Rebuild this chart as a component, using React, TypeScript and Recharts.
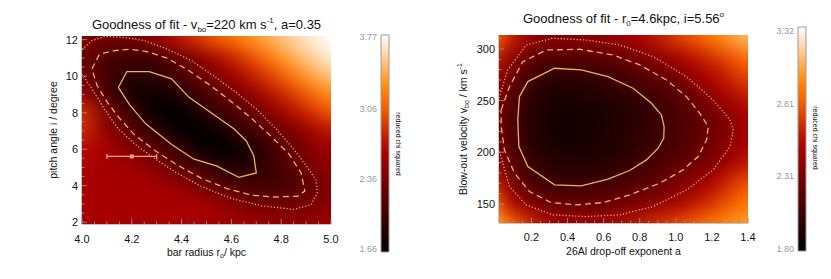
import { ReferenceArea, Scatter, ScatterChart, XAxis, YAxis } from "recharts";

// ---- left panel: chi^2 over bar radius (x) and pitch angle (y)
const leftX = [4.0, 4.1, 4.2, 4.3, 4.4, 4.5, 4.6, 4.7, 4.8, 4.9, 5.0];
const leftY = [12, 11, 10, 9, 8, 7, 6, 5, 4, 3, 2];
const leftChi = [
  [2.45, 2.28, 2.3, 2.52, 2.75, 2.98, 3.15, 3.32, 3.5, 3.66, 3.77],
  [2.25, 2.08, 2.02, 2.03, 2.25, 2.52, 2.78, 3.04, 3.3, 3.52, 3.7],
  [2.35, 2.05, 1.86, 1.9, 2.08, 2.3, 2.55, 2.8, 3.05, 3.32, 3.52],
  [2.55, 2.05, 1.8, 1.72, 1.9, 2.08, 2.28, 2.52, 2.8, 3.05, 3.3],
  [2.9, 2.35, 1.98, 1.68, 1.66, 1.9, 2.07, 2.3, 2.55, 2.8, 3.05],
  [2.85, 2.5, 2.15, 1.92, 1.67, 1.66, 1.88, 2.05, 2.3, 2.5, 2.75],
  [2.7, 2.6, 2.42, 2.15, 1.93, 1.68, 1.67, 1.86, 2.12, 2.38, 2.55],
  [2.65, 2.6, 2.55, 2.45, 2.15, 2.03, 1.82, 1.9, 2.05, 2.33, 2.5],
  [2.62, 2.62, 2.62, 2.6, 2.5, 2.25, 2.08, 2.02, 2.05, 2.15, 2.4],
  [2.62, 2.62, 2.62, 2.62, 2.63, 2.6, 2.45, 2.3, 2.28, 2.32, 2.45],
  [2.6, 2.62, 2.6, 2.6, 2.62, 2.6, 2.58, 2.55, 2.5, 2.5, 2.55],
];
const leftSolid = [
  [4.146, 9.38], [4.18, 10.25], [4.27, 10.25], [4.36, 9.85], [4.43, 8.84], [4.52, 7.98],
  [4.61, 7.12], [4.66, 6.45], [4.69, 5.63], [4.7, 4.7], [4.63, 4.46], [4.54, 5.08],
  [4.45, 5.45], [4.36, 6.26], [4.255, 7.4], [4.19, 8.45], [4.146, 9.38],
];
const leftDashed = [
  [4.04, 10.4], [4.07, 11.2], [4.13, 11.4], [4.19, 11.47], [4.26, 11.35], [4.34, 11.0],
  [4.43, 10.3], [4.52, 9.45], [4.6, 8.6], [4.68, 7.7], [4.76, 6.7], [4.83, 5.75],
  [4.88, 4.7], [4.895, 3.7], [4.865, 3.42], [4.77, 3.38], [4.68, 3.48], [4.58, 3.85],
  [4.48, 4.4], [4.38, 5.15], [4.29, 5.95], [4.21, 6.8], [4.15, 7.7], [4.1, 8.6],
  [4.06, 9.5], [4.04, 10.4],
];
const leftDotted = [
  [4.0, 11.45], [4.04, 11.95], [4.09, 12.17], [4.17, 12.12], [4.25, 11.95], [4.34, 11.5],
  [4.44, 10.85], [4.53, 10.0], [4.62, 9.1], [4.7, 8.2], [4.78, 7.1], [4.85, 6.0],
  [4.9, 5.1], [4.94, 4.3], [4.945, 3.6], [4.92, 2.95], [4.85, 2.7], [4.72, 2.9],
  [4.6, 3.3], [4.48, 3.95], [4.38, 4.7], [4.29, 5.5], [4.21, 6.3], [4.14, 7.2],
  [4.09, 8.2], [4.04, 9.3], [4.0, 10.1],
];
const leftBest = [{ x: 4.2, y: 5.6, xErr: 0.1 }];
const leftXMajor = [4.0, 4.2, 4.4, 4.6, 4.8, 5.0];
const leftYMajor = [2, 4, 6, 8, 10, 12];
const leftBarTicks = [1.66, 2.36, 3.06, 3.77];

// ---- right panel: chi^2 over drop-off exponent (x) and blow-out velocity (y)
const rightX = [0.0, 0.1, 0.2, 0.3, 0.4, 0.5, 0.6, 0.7, 0.8, 0.9, 1.0, 1.1, 1.2, 1.3, 1.4];
const rightY = [310, 290, 270, 250, 230, 210, 190, 170, 150, 130];
const rightChi = [
  [2.85, 2.6, 2.42, 2.36, 2.36, 2.37, 2.4, 2.45, 2.52, 2.6, 2.7, 2.8, 2.9, 3.0, 3.1],
  [2.6, 2.36, 2.17, 2.13, 2.13, 2.13, 2.16, 2.19, 2.28, 2.35, 2.45, 2.55, 2.65, 2.75, 2.85],
  [2.45, 2.2, 2.05, 1.98, 1.97, 1.98, 2.02, 2.07, 2.12, 2.17, 2.24, 2.38, 2.5, 2.62, 2.72],
  [2.35, 2.12, 1.97, 1.92, 1.9, 1.91, 1.93, 1.96, 2.0, 2.05, 2.12, 2.22, 2.35, 2.47, 2.58],
  [2.28, 2.1, 1.96, 1.9, 1.88, 1.89, 1.91, 1.94, 1.98, 2.03, 2.09, 2.15, 2.24, 2.34, 2.48],
  [2.32, 2.1, 1.97, 1.91, 1.89, 1.9, 1.92, 1.96, 2.0, 2.05, 2.11, 2.18, 2.27, 2.37, 2.5],
  [2.45, 2.14, 2.03, 1.96, 1.93, 1.93, 1.95, 1.98, 2.04, 2.1, 2.16, 2.22, 2.32, 2.45, 2.58],
  [2.62, 2.28, 2.1, 2.04, 2.03, 2.03, 2.07, 2.1, 2.15, 2.2, 2.3, 2.4, 2.52, 2.65, 2.78],
  [2.85, 2.5, 2.33, 2.22, 2.2, 2.2, 2.21, 2.26, 2.32, 2.38, 2.47, 2.57, 2.68, 2.8, 2.9],
  [3.05, 2.85, 2.65, 2.52, 2.48, 2.48, 2.5, 2.55, 2.6, 2.68, 2.75, 2.83, 2.9, 2.97, 3.02],
];
const rightSolid = [
  [0.133, 253.8], [0.18, 268.4], [0.328, 281.3], [0.476, 279.7], [0.624, 273.2], [0.763, 262.0],
  [0.865, 247.4], [0.92, 236.1], [0.935, 224.8], [0.933, 213.6], [0.902, 203.9], [0.837, 192.6],
  [0.744, 182.3], [0.624, 173.9], [0.476, 167.4], [0.328, 168.4], [0.18, 186.1], [0.13, 205.5],
  [0.124, 231.3], [0.133, 253.8],
];
const rightDashed = [
  [0.032, 241.0], [0.078, 263.5], [0.152, 287.7], [0.282, 299.0], [0.467, 299.7], [0.652, 294.2],
  [0.8, 284.5], [0.948, 270.0], [1.059, 253.8], [1.133, 237.7], [1.18, 224.8], [1.17, 211.9],
  [1.124, 195.8], [1.04, 182.9], [0.911, 170.0], [0.744, 158.7], [0.596, 151.3], [0.448, 149.0],
  [0.309, 151.3], [0.189, 161.9], [0.106, 179.7], [0.05, 202.3], [0.032, 224.8], [0.032, 241.0],
];
const rightDotted = [
  [0.02, 252.3], [0.068, 279.7], [0.171, 303.9], [0.318, 310.3], [0.5, 308.7], [0.689, 303.9],
  [0.874, 292.6], [1.059, 273.2], [1.207, 250.6], [1.3, 231.3], [1.318, 221.6], [1.3, 205.5],
  [1.207, 182.9], [1.059, 163.5], [0.874, 147.4], [0.689, 139.4], [0.5, 137.7], [0.318, 139.4],
  [0.171, 149.0], [0.078, 166.7], [0.02, 202.3],
];
const rightXMajor = [0.2, 0.4, 0.6, 0.8, 1.0, 1.2, 1.4];
const rightYMajor = [150, 200, 250, 300];
const rightBarTicks = [1.8, 2.31, 2.81, 3.32];

const FONT = '"Liberation Sans", Arial, Helvetica, sans-serif';
const FRAME = "#8a8a8a";
const CONTOUR = "#f7ad5e";
const BEST = "#ffa58c";
const PLOT_W = 249;
const PLOT_H = 188;

// IDL "red temperature" table: black -> red -> orange -> white
function redTemp(t: number) {
  const c = Math.max(0, Math.min(1, t));
  const r = Math.min(1, c / 0.69);
  const g = Math.max(0, (c - 0.47) / 0.53);
  const b = Math.max(0, (c - 0.75) / 0.25);
  return `rgb(${Math.round(r * 255)},${Math.round(g * 255)},${Math.round(b * 255)})`;
}

function range(a: number, b: number, s: number) {
  const out: number[] = [];
  for (let v = a; v <= b + 1e-9; v += s) out.push(+v.toFixed(4));
  return out;
}

const toCells = (xs: number[], ys: number[], grid: number[][]) =>
  ys.flatMap((y, i) => xs.map((x, j) => ({ x, y, v: grid[i][j] })));
const toPts = (pts: number[][]) => pts.map(([x, y]) => ({ x, y }));

const noMark = () => <g />;
const capMark = (p: any) => <line x1={p.cx} x2={p.cx} y1={p.cy - 2.5} y2={p.cy + 2.5} stroke={BEST} strokeWidth={1.2} />;
const boxMark = (p: any) => <rect x={p.cx - 2} y={p.cy - 2} width={4} height={4} fill={BEST} />;

function heatShape(lo: number, hi: number, w: number, h: number) {
  return (props: any) => {
    const { cx, cy, payload } = props;
    return (
      <rect
        x={cx - w / 2 - 0.5}
        y={cy - h / 2 - 0.5}
        width={w + 1}
        height={h + 1}
        fill={redTemp((payload.v - lo) / (hi - lo))}
      />
    );
  };
}

type Side = "bottom" | "left" | "top" | "right";

function axisTick(side: Side, majors: number[], fmt: (v: number) => string, gap: number) {
  return (props: any) => {
    const { x, y, payload } = props;
    const v = payload.value as number;
    const major = majors.some((m) => Math.abs(m - v) < 1e-6);
    const len = major ? 5 : 2.5;
    const pos =
      side === "bottom"
        ? { x1: x, y1: y, x2: x, y2: y - len }
        : side === "top"
          ? { x1: x, y1: y, x2: x, y2: y + len }
          : side === "left"
            ? { x1: x, y1: y, x2: x + len, y2: y }
            : { x1: x, y1: y, x2: x - len, y2: y };
    return (
      <g>
        <line {...pos} stroke={FRAME} strokeWidth={1} />
        {major && side === "bottom" && (
          <text x={x} y={y + gap} textAnchor="middle" fontSize={11} fontFamily={FONT} fill="#111">
            {fmt(v)}
          </text>
        )}
        {major && side === "left" && (
          <text x={x - gap} y={y + 4} textAnchor="end" fontSize={11} fontFamily={FONT} fill="#111">
            {fmt(v)}
          </text>
        )}
      </g>
    );
  };
}

function frameAxes(
  xDomain: [number, number],
  yDomain: [number, number],
  xTicks: number[],
  yTicks: number[],
  xMajor: number[],
  yMajor: number[],
  xFmt: (v: number) => string,
  yFmt: (v: number) => string,
  xGap: number,
) {
  const common = { type: "number" as const, allowDataOverflow: true, interval: 0 as const, tickSize: 0, tickMargin: 0, tickLine: false, axisLine: { stroke: FRAME } };
  return [
    <XAxis key="xb" dataKey="x" domain={xDomain} ticks={xTicks} height={40} tick={axisTick("bottom", xMajor, xFmt, xGap)} {...common} />,
    <XAxis key="xt" xAxisId="top" orientation="top" dataKey="x" domain={xDomain} ticks={xTicks} height={0} tick={axisTick("top", xMajor, xFmt, 0)} {...common} />,
    <YAxis key="yl" dataKey="y" domain={yDomain} ticks={yTicks} width={40} tick={axisTick("left", yMajor, yFmt, 4)} {...common} />,
    <YAxis key="yr" yAxisId="right" orientation="right" dataKey="y" domain={yDomain} ticks={yTicks} width={0} tick={axisTick("right", yMajor, yFmt, 0)} {...common} />,
  ];
}

function ColorBar({ left, top, bottom, domain, ticks, gradId }: { left: number; top: number; bottom: number; domain: [number, number]; ticks: number[]; gradId: string }) {
  return (
    <div style={{ position: "absolute", left, top: 0 }}>
      <ScatterChart width={70} height={279} margin={{ top, right: 21, bottom, left: 5 }}>
        <ReferenceArea x1={0} x2={1} y1={domain[0]} y2={domain[1]} fill={`url(#${gradId})`} fillOpacity={1} stroke="#9a9a9a" strokeWidth={1} />
        <Scatter data={ticks.map((v) => ({ x: 0.5, y: v }))} shape={noMark} isAnimationActive={false} />
        <XAxis type="number" dataKey="x" domain={[0, 1]} hide />
        <YAxis
          type="number"
          dataKey="y"
          domain={domain}
          ticks={ticks}
          allowDataOverflow
          interval={0}
          width={36}
          tickSize={0}
          tickMargin={4}
          axisLine={false}
          tickLine={false}
          tick={{ fill: "#9a9a9a", fontSize: 9, fontFamily: FONT }}
          tickFormatter={(v: number) => v.toFixed(2)}
        />
      </ScatterChart>
    </div>
  );
}

const gradStops = range(0, 1, 0.05);

export default function App() {
  const leftXDom: [number, number] = [4.0, 5.0];
  const leftYDom: [number, number] = [1.9, 12.2];
  const rightXDom: [number, number] = [0.02, 1.4];
  const rightYDom: [number, number] = [131.5, 313.5];
  const lw = (PLOT_W * 0.1) / (leftXDom[1] - leftXDom[0]);
  const lh = (PLOT_H * 1) / (leftYDom[1] - leftYDom[0]);
  const rw = (PLOT_W * 0.1) / (rightXDom[1] - rightXDom[0]);
  const rh = (PLOT_H * 20) / (rightYDom[1] - rightYDom[0]);

  const bestEnds = leftBest.flatMap((b) => [
    { x: b.x - b.xErr, y: b.y },
    { x: b.x + b.xErr, y: b.y },
  ]);

  const contourSeries = (solid: number[][], dashed: number[][], dotted: number[][]) => [
    <Scatter key="dot" data={toPts(dotted)} fill={CONTOUR} line={{ stroke: CONTOUR, strokeWidth: 1.3, strokeDasharray: "1.2 2" }} shape={noMark} isAnimationActive={false} />,
    <Scatter key="dash" data={toPts(dashed)} fill={CONTOUR} line={{ stroke: CONTOUR, strokeWidth: 1.3, strokeDasharray: "6 4" }} shape={noMark} isAnimationActive={false} />,
    <Scatter key="solid" data={toPts(solid)} fill={CONTOUR} line={{ stroke: CONTOUR, strokeWidth: 1.3 }} shape={noMark} isAnimationActive={false} />,
  ];

  return (
    <div style={{ position: "absolute", left: 0, top: 0, width: 831, height: 279, background: "#fff", fontFamily: FONT }}>
      <style>{`
        .heat-left { filter: url(#blurLeft); clip-path: url(#clipLeft); }
        .heat-right { filter: url(#blurRight); clip-path: url(#clipRight); }
      `}</style>
      <svg width={0} height={0} style={{ position: "absolute" }}>
        <defs>
          <filter id="blurLeft" colorInterpolationFilters="sRGB">
            <feGaussianBlur stdDeviation="11 8" />
            <feColorMatrix type="matrix" values="1 0 0 0 0  0 1 0 0 0  0 0 1 0 0  0 0 0 0 1" />
          </filter>
          <filter id="blurRight" colorInterpolationFilters="sRGB">
            <feGaussianBlur stdDeviation="8 9" />
            <feColorMatrix type="matrix" values="1 0 0 0 0  0 1 0 0 0  0 0 1 0 0  0 0 0 0 1" />
          </filter>
          <clipPath id="clipLeft" clipPathUnits="userSpaceOnUse">
            <rect x={82} y={36} width={PLOT_W} height={PLOT_H} />
          </clipPath>
          <clipPath id="clipRight" clipPathUnits="userSpaceOnUse">
            <rect x={82} y={35} width={PLOT_W} height={PLOT_H} />
          </clipPath>
          <linearGradient id="barGrad" x1="0" y1="1" x2="0" y2="0">
            {gradStops.map((t) => (
              <stop key={t} offset={t} stopColor={redTemp(t)} />
            ))}
          </linearGradient>
        </defs>
      </svg>

      <div style={{ position: "absolute", left: 0, top: 0 }}>
        <ScatterChart width={345} height={279} margin={{ top: 36, right: 14, bottom: 15, left: 42 }}>
          <Scatter className="heat-left" data={toCells(leftX, leftY, leftChi)} shape={heatShape(1.66, 3.77, lw, lh)} isAnimationActive={false} />
          {contourSeries(leftSolid, leftDashed, leftDotted)}
          <Scatter data={bestEnds} fill={BEST} line={{ stroke: BEST, strokeWidth: 1.2 }} shape={capMark} isAnimationActive={false} />
          <Scatter data={leftBest} fill={BEST} shape={boxMark} isAnimationActive={false} />
          {frameAxes(leftXDom, leftYDom, range(4.0, 5.0, 0.05), range(2, 12, 0.5), leftXMajor, leftYMajor, (v) => v.toFixed(1), (v) => String(v), 19)}
        </ScatterChart>
      </div>

      <div style={{ position: "absolute", left: 417, top: 0 }}>
        <ScatterChart width={345} height={279} margin={{ top: 35, right: 14, bottom: 16, left: 42 }}>
          <Scatter className="heat-right" data={toCells(rightX, rightY, rightChi)} shape={heatShape(1.8, 3.32, rw, rh)} isAnimationActive={false} />
          {contourSeries(rightSolid, rightDashed, rightDotted)}
          {frameAxes(rightXDom, rightYDom, range(0.05, 1.4, 0.05), range(140, 310, 10), rightXMajor, rightYMajor, (v) => v.toFixed(1), (v) => String(v), 18)}
        </ScatterChart>
      </div>

      <ColorBar left={340} top={35} bottom={27} domain={[1.63, 3.79]} ticks={leftBarTicks} gradId="barGrad" />
      <ColorBar left={757} top={27} bottom={28} domain={[1.788, 3.348]} ticks={rightBarTicks} gradId="barGrad" />

      <svg width={831} height={279} style={{ position: "absolute", left: 0, top: 0, pointerEvents: "none" }} fontFamily={FONT} fill="#111">
        <text x={206.5} y={29} fontSize={13} textAnchor="middle">
          Goodness of fit - v<tspan fontSize={8} dy={3}>bo</tspan>
          <tspan dy={-3}>=220 km s</tspan>
          <tspan fontSize={8} dy={-6}>-1</tspan>
          <tspan dy={6}>, a=0.35</tspan>
        </text>
        <text x={623.5} y={23} fontSize={13} textAnchor="middle">
          Goodness of fit - r<tspan fontSize={8} dy={3}>0</tspan>
          <tspan dy={-3}>=4.6kpc, i=5.56</tspan>
          <tspan fontSize={8} dy={-6}>o</tspan>
        </text>
        <text x={206.5} y={256} fontSize={10.5} textAnchor="middle">
          bar radius r<tspan fontSize={7} dy={2}>o</tspan>
          <tspan dy={-2}>/ kpc</tspan>
        </text>
        <text x={623.5} y={255} fontSize={10.5} textAnchor="middle">
          26Al drop-off exponent a
        </text>
        <text transform="translate(57,130) rotate(-90)" fontSize={10.5} textAnchor="middle">
          pitch angle i / degree
        </text>
        <text transform="translate(467,129) rotate(-90)" fontSize={10.5} textAnchor="middle">
          Blow-out velocity v<tspan fontSize={7} dy={2}>bo</tspan>
          <tspan dy={-2}> / km s</tspan>
          <tspan fontSize={7} dy={-5}>-1</tspan>
        </text>
        <text transform="translate(395.5,144) rotate(90)" fontSize={7} textAnchor="middle">
          reduced chi squared
        </text>
        <text transform="translate(812.5,138) rotate(90)" fontSize={7} textAnchor="middle">
          reduced chi squared
        </text>
      </svg>
    </div>
  );
}
